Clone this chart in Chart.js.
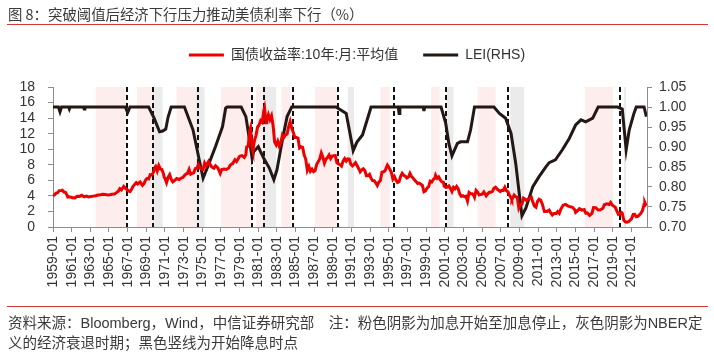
<!DOCTYPE html>
<html><head><meta charset="utf-8">
<script src="https://cdn.jsdelivr.net/npm/chart.js@4/dist/chart.umd.min.js"></script>
<style>
html,body{margin:0;padding:0;background:#fff;}
#wrap{position:relative;width:714px;height:357px;overflow:hidden;font-family:"Liberation Sans","Noto Sans CJK SC",sans-serif;}
#title{position:absolute;left:8px;top:4px;font-size:14.4px;color:#3a3a3a;line-height:20px;white-space:nowrap;font-family:"Noto Sans CJK SC","Liberation Sans",sans-serif;}
.rule{position:absolute;left:7px;width:701px;height:1px;background:#d23a35;}
#foot{position:absolute;left:8px;top:313px;font-size:14.5px;line-height:20px;color:#3a3a3a;white-space:nowrap;font-family:"Liberation Sans","Noto Sans CJK SC",sans-serif;}
canvas{position:absolute;left:0;top:0;}
</style></head>
<body><div id="wrap">
<canvas id="c" width="714" height="357"></canvas>
<div id="title">图 8：突破阈值后经济下行压力推动美债利率下行（%）</div>
<div class="rule" style="top:24px"></div>
<div class="rule" style="top:306px"></div>
<div id="foot">资料来源：Bloomberg，Wind，中信证券研究部　注：粉色阴影为加息开始至加息停止，灰色阴影为NBER定<br>义的经济衰退时期；黑色竖线为开始降息时点</div>
</div>
<script>
// ---- data ----
const yieldLabel = '国债收益率:10年:月:平均值';
const leiLabel = 'LEI(RHS)';
const xTickYears = [1959,1961,1963,1965,1967,1969,1971,1973,1975,1977,1979,1981,1983,1985,1987,1989,1991,1993,1995,1997,1999,2001,2003,2005,2007,2009,2011,2013,2015,2017,2019,2021];
const leftTicks = [0,2,4,6,8,10,12,14,16,18];
const rightTicks = [0.70,0.75,0.80,0.85,0.90,0.95,1.00,1.05];

const yieldSeries = [
['1959-01',4.02],['1959-03',4.13],['1959-05',4.35],['1959-07',4.40],['1959-09',4.68],['1959-12',4.69],
['1960-01',4.72],['1960-03',4.49],['1960-05',4.46],['1960-07',4.10],['1960-08',3.85],['1960-10',3.89],['1960-12',3.84],
['1961-02',3.75],['1961-05',3.73],['1961-08',3.96],['1961-11',3.94],
['1962-02',4.08],['1962-05',3.87],['1962-08',3.98],['1962-11',3.87],
['1963-02',3.92],['1963-05',3.97],['1963-08',4.02],['1963-11',4.12],
['1964-02',4.15],['1964-05',4.20],['1964-08',4.19],['1964-11',4.12],
['1965-02',4.15],['1965-05',4.21],['1965-08',4.25],['1965-11',4.45],
['1966-01',4.61],['1966-03',4.92],['1966-05',4.78],['1966-08',5.22],['1966-10',5.01],['1966-12',4.84],
['1967-02',4.62],['1967-04',4.55],['1967-06',4.86],['1967-08',5.23],['1967-10',5.48],['1967-12',5.70],
['1968-02',5.53],['1968-05',5.78],['1968-08',5.35],['1968-10',5.58],['1968-12',6.03],
['1969-02',6.25],['1969-04',6.19],['1969-06',6.72],['1969-08',6.69],['1969-10',7.01],['1969-12',7.65],
['1970-01',7.79],['1970-03',7.21],['1970-05',7.90],['1970-07',7.46],['1970-09',7.39],['1970-11',6.87],['1970-12',6.39],
['1971-01',6.24],['1971-03',5.70],['1971-05',6.39],['1971-07',6.73],['1971-09',6.14],['1971-11',5.81],
['1972-01',5.95],['1972-04',6.23],['1972-07',6.11],['1972-10',6.29],['1972-12',6.36],
['1973-02',6.61],['1973-04',6.81],['1973-06',6.90],['1973-08',7.40],['1973-10',6.79],['1973-12',6.90],
['1974-02',6.96],['1974-04',7.51],['1974-06',7.54],['1974-08',8.04],['1974-10',7.60],['1974-12',7.43],
['1975-02',7.39],['1975-04',8.23],['1975-06',7.86],['1975-09',8.43],['1975-11',8.05],
['1976-01',7.74],['1976-04',7.56],['1976-06',7.86],['1976-09',7.59],['1976-12',6.87],
['1977-02',7.39],['1977-05',7.46],['1977-08',7.40],['1977-11',7.58],
['1978-01',7.96],['1978-04',8.15],['1978-07',8.64],['1978-09',8.42],['1978-11',8.75],
['1979-01',9.10],['1979-04',9.18],['1979-07',8.95],['1979-09',9.33],['1979-10',10.30],['1979-12',10.39],
['1980-02',12.41],['1980-03',12.75],['1980-05',10.18],['1980-06',9.78],['1980-08',11.10],['1980-10',11.75],['1980-12',12.84],
['1981-02',13.12],['1981-04',13.68],['1981-06',13.47],['1981-08',14.94],['1981-09',15.32],['1981-11',13.39],['1981-12',13.72],
['1982-02',14.43],['1982-04',13.80],['1982-06',14.30],['1982-08',13.06],['1982-10',10.91],['1982-12',10.54],
['1983-02',11.03],['1983-04',10.38],['1983-06',10.85],['1983-08',11.85],['1983-10',11.54],['1983-12',11.83],
['1984-02',11.95],['1984-04',12.90],['1984-06',13.56],['1984-08',12.72],['1984-10',12.16],['1984-12',11.50],
['1985-02',11.51],['1985-04',11.43],['1985-06',10.16],['1985-08',10.33],['1985-10',10.24],['1985-12',9.26],
['1986-02',8.70],['1986-04',7.30],['1986-06',7.80],['1986-08',7.17],['1986-10',7.43],['1986-12',7.11],
['1987-02',7.25],['1987-04',8.02],['1987-06',8.40],['1987-08',8.76],['1987-10',9.52],['1987-12',8.99],
['1988-02',8.21],['1988-04',8.72],['1988-06',8.92],['1988-08',9.26],['1988-10',8.80],['1988-12',9.11],
['1989-02',9.17],['1989-04',9.18],['1989-06',8.28],['1989-08',8.11],['1989-10',8.01],['1989-12',7.84],
['1990-02',8.47],['1990-04',8.79],['1990-06',8.48],['1990-08',8.75],['1990-10',8.72],['1990-12',8.08],
['1991-02',7.85],['1991-04',8.04],['1991-06',8.28],['1991-08',7.90],['1991-10',7.53],['1991-12',7.09],
['1992-02',7.34],['1992-04',7.48],['1992-06',7.26],['1992-08',6.59],['1992-10',6.59],['1992-12',6.77],
['1993-02',6.26],['1993-04',5.97],['1993-06',5.96],['1993-08',5.68],['1993-10',5.33],['1993-12',5.77],
['1994-02',5.97],['1994-04',7.04],['1994-06',7.10],['1994-08',7.24],['1994-10',7.74],['1994-11',7.96],['1994-12',7.81],
['1995-02',7.44],['1995-04',7.06],['1995-06',6.17],['1995-08',6.49],['1995-10',6.04],['1995-12',5.71],
['1996-02',5.81],['1996-04',6.51],['1996-06',6.91],['1996-08',6.64],['1996-10',6.53],['1996-12',6.30],
['1997-02',6.42],['1997-04',6.89],['1997-06',6.49],['1997-08',6.30],['1997-10',6.03],['1997-12',5.81],
['1998-02',5.59],['1998-04',5.64],['1998-06',5.50],['1998-08',5.34],['1998-10',4.53],['1998-12',4.65],
['1999-02',5.00],['1999-04',5.18],['1999-06',5.90],['1999-08',5.79],['1999-10',6.11],['1999-12',6.28],
['2000-01',6.66],['2000-03',6.26],['2000-05',6.44],['2000-07',6.05],['2000-09',5.80],['2000-11',5.78],['2000-12',5.24],
['2001-02',5.10],['2001-04',5.14],['2001-06',5.28],['2001-08',4.97],['2001-10',4.57],['2001-12',5.09],
['2002-02',4.91],['2002-04',5.21],['2002-06',4.93],['2002-08',4.26],['2002-10',3.94],['2002-12',4.03],
['2003-02',3.90],['2003-04',3.96],['2003-06',3.33],['2003-08',4.45],['2003-10',4.29],['2003-12',4.27],
['2004-02',4.06],['2004-03',3.83],['2004-05',4.72],['2004-07',4.50],['2004-09',4.13],['2004-11',4.19],
['2005-01',4.22],['2005-03',4.50],['2005-06',4.00],['2005-08',4.26],['2005-10',4.46],['2005-12',4.47],
['2006-02',4.57],['2006-04',4.99],['2006-06',5.11],['2006-08',4.88],['2006-10',4.73],['2006-12',4.56],
['2007-02',4.72],['2007-04',4.69],['2007-06',5.10],['2007-08',4.67],['2007-10',4.53],['2007-12',4.10],
['2008-02',3.74],['2008-03',3.51],['2008-06',4.10],['2008-08',3.89],['2008-10',3.81],['2008-12',2.42],
['2009-02',2.87],['2009-04',2.93],['2009-06',3.72],['2009-08',3.59],['2009-10',3.39],['2009-12',3.59],
['2010-02',3.69],['2010-04',3.85],['2010-06',3.20],['2010-08',2.70],['2010-10',2.54],['2010-12',3.29],
['2011-02',3.58],['2011-04',3.46],['2011-06',3.00],['2011-08',2.30],['2011-09',1.98],['2011-12',1.98],
['2012-03',2.17],['2012-05',1.80],['2012-07',1.53],['2012-09',1.72],['2012-12',1.72],
['2013-02',1.98],['2013-04',1.76],['2013-06',2.30],['2013-09',2.81],['2013-12',2.90],
['2014-03',2.72],['2014-06',2.60],['2014-09',2.53],['2014-12',2.21],
['2015-01',1.88],['2015-03',2.04],['2015-06',2.36],['2015-09',2.17],['2015-12',2.24],
['2016-02',1.78],['2016-04',1.81],['2016-07',1.50],['2016-10',1.76],['2016-12',2.49],
['2017-03',2.48],['2017-06',2.19],['2017-09',2.20],['2017-12',2.40],
['2018-02',2.86],['2018-05',2.98],['2018-08',2.89],['2018-10',3.15],['2018-12',2.83],
['2019-02',2.68],['2019-04',2.53],['2019-06',2.07],['2019-08',1.63],['2019-10',1.71],['2019-12',1.86],
['2020-01',1.76],['2020-03',0.87],['2020-05',0.67],['2020-07',0.62],['2020-09',0.68],['2020-11',0.87],
['2021-01',1.08],['2021-03',1.61],['2021-05',1.62],['2021-07',1.32],['2021-09',1.37],['2021-11',1.56],
['2022-01',1.76],['2022-03',2.13],['2022-05',2.90],['2022-06',3.14],['2022-07',2.90],['2022-08',3.05]
];

const leiSeries = [
['1959-01',1.00],['1959-08',1.00],['1959-10',0.988],['1959-12',1.00],['1960-09',1.00],['1960-10',0.995],['1960-11',1.00],
['1962-04',1.00],['1962-05',0.995],['1962-06',1.00],['1966-10',1.00],['1967-01',0.986],['1967-04',1.00],
['1969-04',1.00],['1969-11',0.972],['1970-06',0.938],['1970-10',0.940],['1971-02',0.945],['1971-05',0.975],['1971-09',1.00],
['1973-02',1.00],['1974-01',0.943],['1974-09',0.868],['1975-02',0.822],['1975-08',0.851],['1976-06',0.901],['1977-03',0.951],['1977-07',0.997],['1977-09',1.00],
['1979-03',1.00],['1979-09',0.976],['1980-01',0.926],['1980-05',0.872],['1980-07',0.888],['1981-01',0.901],['1981-04',0.888],['1981-08',0.872],
['1982-03',0.848],['1982-09',0.818],['1983-01',0.843],['1983-08',0.918],['1984-02',0.976],['1984-08',1.00],
['1989-05',1.00],['1990-06',0.984],['1990-10',0.943],['1991-03',0.891],['1991-08',0.913],['1992-03',0.930],['1992-09',0.968],['1993-02',1.00],
['1996-01',1.00],['1996-02',0.984],['1996-03',1.00],['1998-09',1.00],['1998-10',0.990],['1998-11',1.00],
['2000-08',1.00],['2001-02',0.959],['2001-06',0.909],['2001-10',0.878],['2002-05',0.909],['2002-09',0.913],['2003-06',0.913],['2003-10',0.943],['2004-03',1.00],
['2006-04',1.00],['2006-11',0.984],['2007-07',0.972],['2008-02',0.934],['2008-08',0.859],['2009-01',0.776],['2009-04',0.728],['2009-09',0.747],
['2010-06',0.801],['2011-02',0.826],['2011-11',0.851],['2012-03',0.861],['2012-11',0.868],['2013-08',0.893],['2014-05',0.922],['2015-01',0.955],
['2015-08',0.968],['2016-02',0.963],['2016-11',0.972],['2017-06',1.00],['2019-07',1.00],['2020-01',0.995],['2020-06',0.893],['2020-10',0.943],
['2021-04',0.984],['2021-07',1.00],['2022-05',1.00],['2022-08',0.976]
];

// shaded periods and rate-cut start months
const hikeStart = ['1963-08','1968-01','1972-04','1977-01','1980-10','1983-07','1987-02','1994-02','1999-07','2004-07','2016-01'];
const hikeEnd   = ['1966-11','1969-09','1974-05','1980-05','1981-09','1984-07','1989-07','1995-02','2000-06','2006-06','2019-01'];
const recStart  = ['1969-09','1974-05','1981-08','1990-08','2001-03','2008-01','2020-03'];
const recEnd    = ['1970-10','1975-04','1982-12','1991-04','2001-12','2009-07','2020-06'];
const cutStart  = ['1966-12','1969-09','1974-07','1980-05','1981-08','1984-09','1989-07','1995-08','2001-02','2007-10','2019-10'];

// ---- chart ----
const toYear = s => { const [y, m] = s.split('-').map(Number); return y + (m - 1) / 12; };
const font = { family: '"Liberation Sans","Noto Sans CJK SC",sans-serif', size: 14 };
const axisColor = '#8c8c8c';
const textColor = '#333';

const shading = {
  id: 'shading',
  beforeDatasetsDraw(chart) {
    const { ctx, chartArea: { top, bottom }, scales: { x } } = chart;
    ctx.save();
    const band = (s, e, color) => {
      const a = x.getPixelForValue(toYear(s)), b = x.getPixelForValue(toYear(e));
      ctx.fillStyle = color;
      ctx.fillRect(a, top, b - a, bottom - top);
    };
    hikeStart.forEach((s, i) => band(s, hikeEnd[i], '#fdeded'));
    recStart.forEach((s, i) => band(s, recEnd[i], '#ebebeb'));
    ctx.setLineDash([5, 3]);
    ctx.lineWidth = 2;
    ctx.strokeStyle = '#111';
    cutStart.forEach(s => {
      const px = Math.round(x.getPixelForValue(toYear(s)));
      ctx.beginPath(); ctx.moveTo(px, top); ctx.lineTo(px, bottom); ctx.stroke();
    });
    ctx.restore();
  }
};

const legendSpacer = {
  id: 'legendSpacer',
  beforeInit(chart) {
    const orig = chart.legend.fit;
    chart.legend.fit = function () { orig.call(this); this.height += 15; };
  }
};

new Chart(document.getElementById('c'), {
  type: 'line',
  data: {
    datasets: [
      { label: yieldLabel, yAxisID: 'y', data: yieldSeries.map(([d, v]) => ({ x: toYear(d), y: v })),
        borderColor: '#ee0000', backgroundColor: '#ee0000', borderWidth: 3, pointRadius: 0, tension: 0 },
      { label: leiLabel, yAxisID: 'y1', data: leiSeries.map(([d, v]) => ({ x: toYear(d), y: v })),
        borderColor: '#231815', backgroundColor: '#231815', borderWidth: 3, pointRadius: 0, tension: 0 }
    ]
  },
  options: {
    responsive: false,
    animation: false,
    devicePixelRatio: 1,
    layout: { padding: { top: 23, left: 0, right: 0, bottom: 0 } },
    plugins: {
      legend: {
        position: 'top', align: 'center',
        labels: { usePointStyle: true, pointStyle: 'line', pointStyleWidth: 35, padding: 25, font, color: textColor }
      },
      tooltip: { enabled: false }
    },
    scales: {
      x: {
        type: 'linear', min: 1959, max: 2022.65,
        afterBuildTicks: s => { s.ticks = xTickYears.map(v => ({ value: v })); },
        afterFit: s => { s.height = 130; },
        ticks: { autoSkip: false, minRotation: 90, maxRotation: 90, padding: 4, font, color: textColor, callback: v => v + '-01' },
        grid: { drawOnChartArea: false, tickLength: 5, color: axisColor },
        border: { color: axisColor }
      },
      y: {
        position: 'left', min: 0, max: 18,
        afterBuildTicks: s => { s.ticks = leftTicks.map(v => ({ value: v })); },
        afterFit: s => { s.width = 53; },
        ticks: { autoSkip: false, padding: 13, font, color: textColor },
        grid: { drawOnChartArea: false, tickLength: 5, color: axisColor },
        border: { color: axisColor }
      },
      y1: {
        position: 'right', min: 0.70, max: 1.05,
        afterBuildTicks: s => { s.ticks = rightTicks.map(v => ({ value: v })); },
        afterFit: s => { s.width = 67; },
        ticks: { autoSkip: false, padding: 7, font, color: textColor, callback: v => v.toFixed(2) },
        grid: { drawOnChartArea: false, tickLength: 5, color: axisColor },
        border: { color: axisColor }
      }
    }
  },
  plugins: [shading, legendSpacer]
});
</script>
</body></html>
